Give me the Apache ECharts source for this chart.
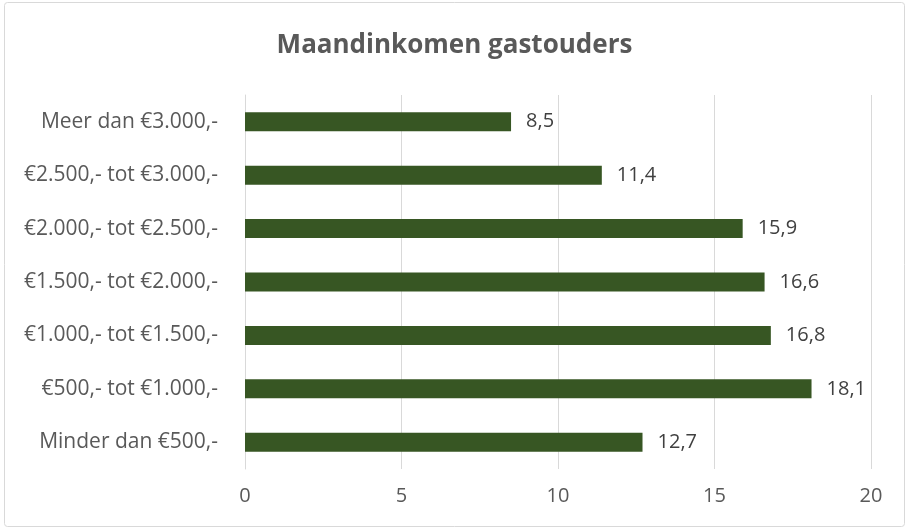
<!DOCTYPE html>
<html>
<head>
<meta charset="utf-8">
<script src="https://cdn.jsdelivr.net/npm/echarts@6/dist/echarts.min.js"></script>
<style>
html,body{margin:0;padding:0;background:#fff;}
#c{width:909px;height:529px;}
</style>
</head>
<body>
<div id="c"></div>
<script>
var categories = ["Meer dan €3.000,-","€2.500,- tot €3.000,-","€2.000,- tot €2.500,-","€1.500,- tot €2.000,-","€1.000,- tot €1.500,-","€500,- tot €1.000,-","Minder dan €500,-"];
var values = [8.5, 11.4, 15.9, 16.6, 16.8, 18.1, 12.7];
var titleText = "Maandinkomen gastouders";

var chart = echarts.init(document.getElementById('c'), null, {renderer:'canvas'});
var font = "'Open Sans', 'Noto Sans', sans-serif";
chart.setOption({
  animation:false,
  backgroundColor:'#fff',
  title:{text:titleText,left:'center',top:28,textStyle:{fontFamily:font,fontSize:26,fontWeight:'bold',color:'#595959'}},
  graphic:[{type:'rect',shape:{x:4.5,y:2.5,width:900,height:524,r:3},style:{fill:'none',stroke:'#d9d9d9',lineWidth:1},silent:true}],
  grid:{left:245,right:38,top:95,bottom:60,containLabel:false},
  xAxis:{type:'value',min:0,max:20,interval:5,
    axisLine:{show:false},axisTick:{show:false},
    splitLine:{lineStyle:{color:'#d9d9d9',width:1}},
    axisLabel:{fontFamily:font,fontSize:20,color:'#595959',margin:17}},
  yAxis:{type:'category',data:categories,inverse:true,
    axisLine:{show:true,lineStyle:{color:'#d9d9d9'}},axisTick:{show:false},
    axisLabel:{fontFamily:font,fontSize:21,color:'#595959',margin:27}},
  series:[{type:'bar',data:values,barWidth:19,
    itemStyle:{color:'#375623'},
    label:{show:true,position:'right',distance:15,fontFamily:font,fontSize:20,color:'#404040',
      formatter:function(p){return String(p.value).replace('.',',');}}}]
});
</script>
</body>
</html>
